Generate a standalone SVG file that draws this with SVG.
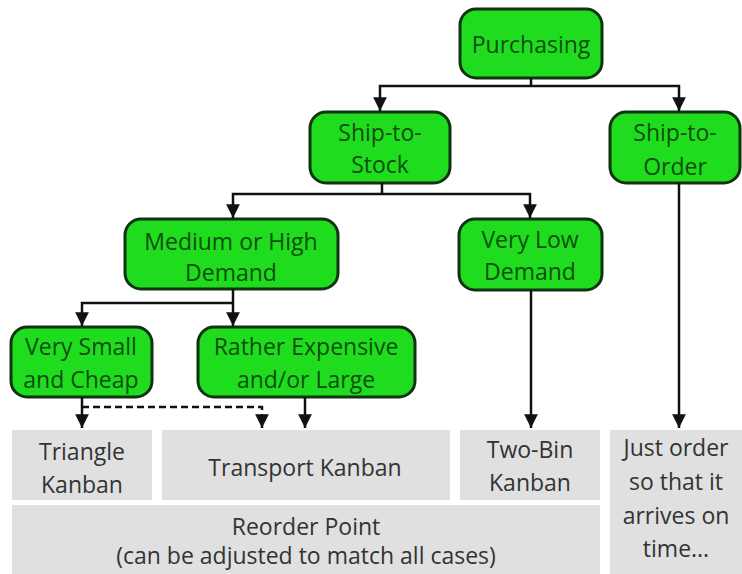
<svg xmlns="http://www.w3.org/2000/svg" width="742" height="574" viewBox="0 0 742 574">
  <defs>
    <marker id="arrow" viewBox="0 0 10 10" refX="10" refY="5" markerWidth="5.5" markerHeight="5.5" markerUnits="strokeWidth" orient="auto">
      <path d="M0,0 L10,5 L0,10 z" fill="#111"/>
    </marker>
  </defs>
  <style>
    .dec rect { fill: #1fdc1f; stroke: #113311; stroke-width: 3; }
    .dec text { fill: #0c4e0c; font-family: "Open Sans", "Liberation Sans", sans-serif; font-size: 23px; text-anchor: middle; }
    .res rect { fill: #e0e0e0; stroke: none; }
    .res text { fill: #333333; font-family: "Open Sans", "Liberation Sans", sans-serif; font-size: 23px; text-anchor: middle; }
    .edge { fill: none; stroke: #111; stroke-width: 2.5; }
    .dash { stroke-dasharray: 7 4; }
  </style>
  <rect width="742" height="574" fill="#ffffff"/>

  <!-- result blocks -->
  <g id="triangle-kanban" class="res">
    <rect x="12" y="430" width="140" height="70"/>
    <text x="82" y="460">Triangle</text>
    <text x="82" y="493">Kanban</text>
  </g>
  <g id="transport-kanban" class="res">
    <rect x="162" y="430" width="288" height="70"/>
    <text x="305" y="476">Transport Kanban</text>
  </g>
  <g id="two-bin-kanban" class="res">
    <rect x="460" y="430" width="140" height="70"/>
    <text x="530" y="458">Two-Bin</text>
    <text x="530" y="491">Kanban</text>
  </g>
  <g id="reorder-point" class="res">
    <rect x="12" y="505" width="588" height="69"/>
    <text x="306" y="535">Reorder Point</text>
    <text x="306" y="564">(can be adjusted to match all cases)</text>
  </g>
  <g id="just-order" class="res">
    <rect x="610" y="430" width="132" height="144"/>
    <text x="676" y="456">Just order</text>
    <text x="676" y="490">so that it</text>
    <text x="676" y="524">arrives on</text>
    <text x="676" y="557">time...</text>
  </g>

  <!-- decision nodes -->
  <g id="purchasing" class="dec">
    <rect x="460" y="9" width="142" height="69" rx="16"/>
    <text x="531" y="53">Purchasing</text>
  </g>
  <g id="ship-to-stock" class="dec">
    <rect x="310" y="112" width="140" height="71" rx="16"/>
    <text x="380" y="141">Ship-to-</text>
    <text x="380" y="173">Stock</text>
  </g>
  <g id="ship-to-order" class="dec">
    <rect x="610" y="112" width="130" height="71" rx="16"/>
    <text x="675" y="141">Ship-to-</text>
    <text x="675" y="175">Order</text>
  </g>
  <g id="medium-high-demand" class="dec">
    <rect x="125" y="219" width="213" height="70" rx="16"/>
    <text x="231" y="250">Medium or High</text>
    <text x="231" y="281">Demand</text>
  </g>
  <g id="very-low-demand" class="dec">
    <rect x="459" y="219" width="143" height="71" rx="16"/>
    <text x="530" y="248">Very Low</text>
    <text x="530" y="280">Demand</text>
  </g>
  <g id="very-small-cheap" class="dec">
    <rect x="11" y="327" width="141" height="70" rx="16"/>
    <text x="81" y="355">Very Small</text>
    <text x="81" y="388">and Cheap</text>
  </g>
  <g id="rather-expensive-large" class="dec">
    <rect x="198" y="327" width="217" height="70" rx="16"/>
    <text x="306" y="355">Rather Expensive</text>
    <text x="306" y="388">and/or Large</text>
  </g>

  <!-- connectors -->
  <g id="connectors">
    <path class="edge" d="M531,78 V86"/>
    <path class="edge" d="M531,86 H380 V111" marker-end="url(#arrow)"/>
    <path class="edge" d="M531,86 H679 V111" marker-end="url(#arrow)"/>
    <path class="edge" d="M382,183 V194"/>
    <path class="edge" d="M382,194 H233 V218" marker-end="url(#arrow)"/>
    <path class="edge" d="M382,194 H530 V218" marker-end="url(#arrow)"/>
    <path class="edge" d="M233,289 V303"/>
    <path class="edge" d="M233,303 H82 V326" marker-end="url(#arrow)"/>
    <path class="edge" d="M233,303 V326" marker-end="url(#arrow)"/>
    <path class="edge" d="M82,397 V428" marker-end="url(#arrow)"/>
    <path class="edge dash" d="M82,407 H262 V428" marker-end="url(#arrow)"/>
    <path class="edge" d="M305,397 V428" marker-end="url(#arrow)"/>
    <path class="edge" d="M531,290 V428" marker-end="url(#arrow)"/>
    <path class="edge" d="M679,183 V428" marker-end="url(#arrow)"/>
  </g>
</svg>
